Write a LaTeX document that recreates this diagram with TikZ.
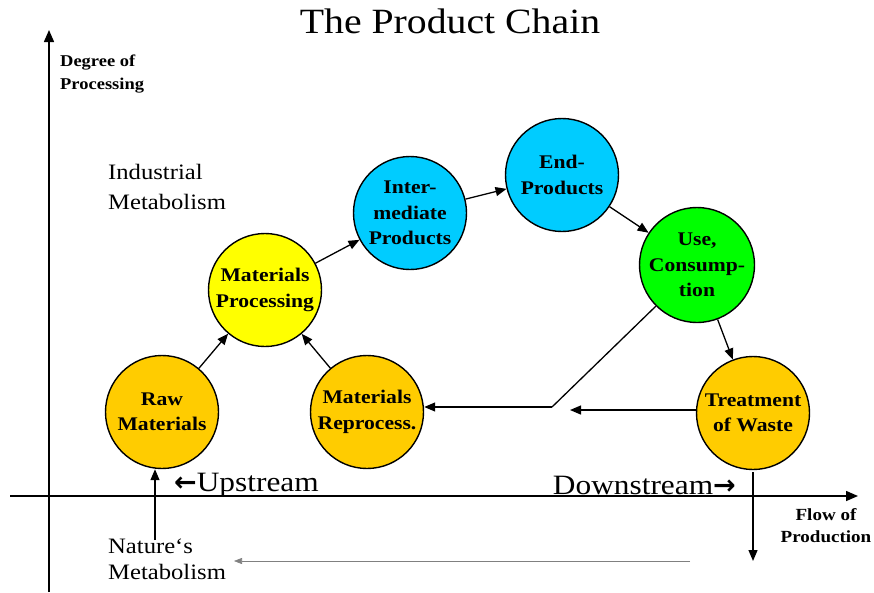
\documentclass[tikz,border=0pt]{standalone}
\usepackage{fontspec}
\setmainfont{Liberation Serif}[FakeStretch=1.12]
\newfontfamily\arrowfont{DejaVu Sans}
\usepackage{tikz}
\usetikzlibrary{arrows.meta}
\definecolor{gold}{HTML}{FFCC00}
\definecolor{lemon}{HTML}{FFFF00}
\definecolor{sky}{HTML}{00CCFF}
\definecolor{lime}{HTML}{00FF00}
\tikzstyle{stage}=[circle,draw=black,line width=1.4pt,minimum size=113pt,inner sep=0pt,align=center,font=\fontsize{19.3}{25.5}\selectfont\bfseries]
\tikzstyle{flow}=[-{Triangle[length=11pt,width=9pt]},line width=1.3pt]
\tikzstyle{axis}=[-{Triangle[length=12pt,width=10pt]},line width=1.5pt]
\tikzstyle{lbl}=[align=left,inner sep=0pt,anchor=north west]
\newcommand{\chainfont}{\fontsize{28}{30}\selectfont}
\newcommand{\sidearrow}[1]{{\arrowfont\bfseries\fontsize{27}{30}\selectfont #1}}

\begin{document}
\begin{tikzpicture}[x=1pt,y=-1pt]
    \useasboundingbox (0,0) rectangle (874,592);
    \node (title) at (450,21) {\fontsize{35.5}{38}\selectfont The Product Chain};
%   axes
    \coordinate (ybot) at (49,592);
    \coordinate (ytop) at (49,30);
    \coordinate (xleft) at (10,496);
    \coordinate (xright) at (858,496);
    \draw[axis] (ybot) -- (ytop);
    \draw[axis] (xleft) -- (xright);
    \node[lbl,font=\fontsize{16.5}{23}\selectfont\bfseries] (degree) at (60,55) {Degree of\\Processing};
    \node[align=center,font=\fontsize{17}{22}\selectfont\bfseries] (flowlbl) at (826,526) {Flow of\\Production};
    \node[lbl,font=\fontsize{22}{30}\selectfont] (indus) at (108,164) {Industrial\\Metabolism};
    \node[lbl,font=\fontsize{22}{26}\selectfont] (nature) at (108,539) {Nature`s\\Metabolism};
    \node[anchor=west,inner sep=0pt] (up) at (174,485) {\sidearrow{←}\chainfont Upstream};
    \node[anchor=east,inner sep=0pt] (down) at (736,485) {\chainfont Downstream\sidearrow{→}};
%   stages
    \node[stage,fill=gold] (raw) at (162,412) {Raw\\Materials};
    \node[stage,fill=lemon] (proc) at (265,290) {Materials\\Processing};
    \node[stage,fill=gold] (repro) at (367,412) {Materials\\Reprocess.};
    \node[stage,fill=sky] (inter) at (410,213) {Inter-\\mediate\\Products};
    \node[stage,fill=sky] (end) at (562,175) {End-\\Products};
    \node[stage,fill=lime] (use) at (697,265) {Use,\\Consump-\\tion};
    \node[stage,fill=gold] (waste) at (753,413) {Treatment\\of Waste};
%   flows
    \draw[flow] (raw) -- (proc);
    \draw[flow] (repro) -- (proc);
    \draw[flow] (proc) -- (inter);
    \draw[flow] (inter) -- (end);
    \draw[flow] (end) -- (use);
    \draw[flow] (use) -- (waste);
    \coordinate (bend) at (552,407);
    \coordinate (wasteend) at (570,410);
    \coordinate (natstart) at (155,540);
    \coordinate (wastedown) at (753,561);
    \coordinate (greyR) at (690,561);
    \coordinate (greyL) at (234,561);
    \draw[line width=1.3pt] (use.-135) -- (bend);
    \draw[flow] (bend) -- (repro.east |- bend);
    \draw[flow] (waste.west |- wasteend) -- (wasteend);
    \draw[flow] (natstart) -- (natstart |- raw.south);
    \draw[flow] (waste.south) ++(0,2) -- (wastedown);
    \draw[-{Triangle[length=8pt,width=6pt]},gray,line width=0.6pt] (greyR) -- (greyL);
\end{tikzpicture}
\end{document}
